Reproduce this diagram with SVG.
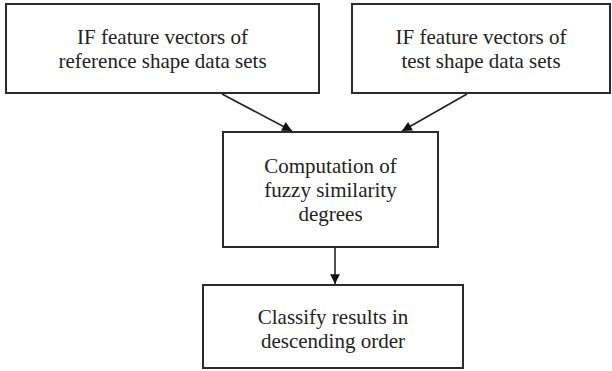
<svg xmlns="http://www.w3.org/2000/svg" width="612" height="371" viewBox="0 0 612 371">
<style>
.box{fill:#fff;stroke:#2b2b2b;stroke-width:2}
.t{font-family:"Liberation Serif","Times New Roman",serif;font-size:21px;fill:#222;text-anchor:middle}
.c{stroke:#222;stroke-width:1.6;fill:none}
</style>
<defs>
<marker id="ah" viewBox="0 0 10 10" refX="10" refY="5" markerWidth="7" markerHeight="7" markerUnits="userSpaceOnUse" orient="auto" overflow="visible">
<path d="M0,0 L10,5 L0,10 z" fill="#111" transform="scale(1.4)" transform-origin="10 5"/>
</marker>
</defs>
<rect width="612" height="371" fill="#fff"/>
<g id="n1">
<rect class="box" x="6" y="4" width="313" height="89"/>
<text class="t" x="162.5" y="44">IF feature vectors of</text>
<text class="t" x="162.5" y="68">reference shape data sets</text>
</g>
<g id="n2">
<rect class="box" x="352" y="4" width="258" height="89"/>
<text class="t" x="481" y="44">IF feature vectors of</text>
<text class="t" x="481" y="68">test shape data sets</text>
</g>
<g id="n3">
<rect class="box" x="223" y="132" width="215" height="115"/>
<text class="t" x="330.5" y="173">Computation of</text>
<text class="t" x="330.5" y="197">fuzzy similarity</text>
<text class="t" x="330.5" y="221">degrees</text>
</g>
<g id="n4">
<rect class="box" x="203" y="285" width="260" height="83"/>
<text class="t" x="333" y="324">Classify results in</text>
<text class="t" x="333" y="348">descending order</text>
</g>
<g id="connectors">
<line class="c" x1="222" y1="94" x2="292" y2="131" marker-end="url(#ah)"/>
<line class="c" x1="467" y1="94" x2="402" y2="131" marker-end="url(#ah)"/>
<line class="c" x1="335" y1="248" x2="335" y2="284" marker-end="url(#ah)"/>
</g>
</svg>
